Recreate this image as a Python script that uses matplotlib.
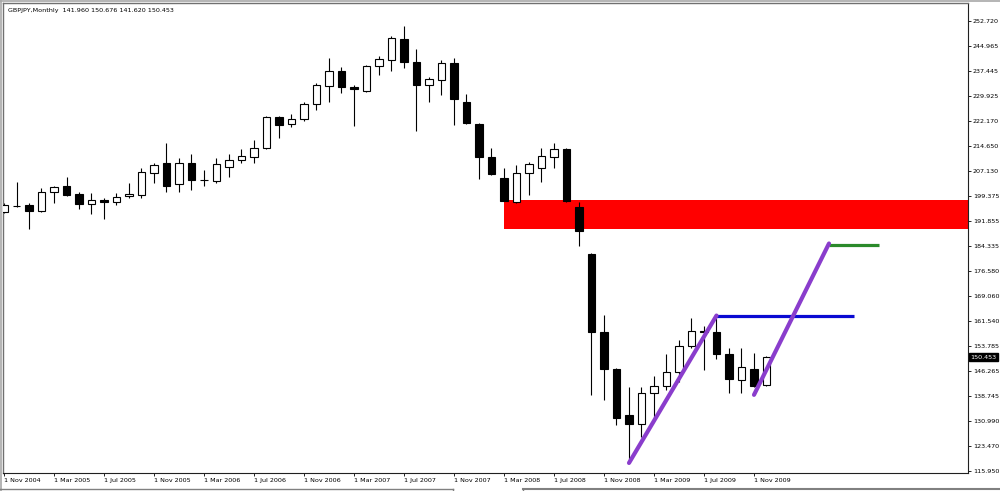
import matplotlib
matplotlib.use('Agg')
import matplotlib.pyplot as plt
from matplotlib.patches import Rectangle
from matplotlib.lines import Line2D
import matplotlib.transforms as mtransforms

plt.rcParams['font.family'] = ['DejaVu Sans']

# ---- data: monthly GBPJPY candles, month index 0 = Nov 2004 ----
months = list(range(62))
opens = [194.7, 196.4, 196.7, 195.0, 200.75, 202.4, 200.05, 196.9, 198.2, 197.5,
         199.4, 199.75, 206.3, 209.6, 203.0, 209.6, 204.3, 204.0, 208.35, 210.4,
         211.2, 213.9, 223.4, 221.2, 222.8, 227.3, 233.0, 237.4, 232.7, 231.35,
         238.9, 240.8, 247.1, 240.3, 233.2, 234.7, 239.8, 228.1, 221.2, 211.4,
         204.8, 197.7, 206.3, 207.9, 211.4, 213.7, 196.0, 181.8, 158.2, 146.8,
         132.9, 130.1, 139.7, 141.8, 145.9, 153.9, 158.3, 158.2, 151.3, 143.5,
         146.8, 141.96]
highs = [197.3, 203.6, 197.2, 202.0, 202.6, 205.3, 200.75, 200.3, 198.7, 200.3,
         203.5, 208.0, 209.4, 215.6, 210.9, 212.1, 207.3, 210.9, 212.1, 213.6,
         216.5, 223.75, 223.6, 224.4, 228.0, 233.9, 241.5, 238.7, 233.3, 239.2,
         242.0, 247.95, 251.2, 244.0, 235.55, 240.8, 241.3, 230.35, 221.5, 213.9,
         207.9, 208.9, 209.9, 213.9, 215.6, 213.9, 197.7, 182.2, 163.3, 147.1,
         141.5, 141.5, 144.8, 151.4, 155.7, 162.45, 159.9, 162.8, 153.2, 153.15,
         151.6, 150.676]
lows = [194.3, 196.0, 189.3, 194.5, 197.4, 199.5, 195.5, 194.0, 192.4, 196.7,
        198.7, 198.9, 203.3, 200.75, 200.6, 201.4, 202.6, 203.5, 205.3, 209.6,
        209.4, 213.7, 217.1, 220.3, 222.3, 225.6, 227.95, 230.65, 220.8, 231.1,
        236.3, 237.5, 238.2, 219.2, 227.9, 230.1, 221.0, 221.4, 204.5, 205.8,
        197.9, 197.2, 199.75, 203.8, 207.9, 197.7, 184.2, 139.0, 137.4, 129.8,
        118.3, 126.3, 131.9, 140.5, 143.0, 153.1, 146.5, 149.8, 139.7, 139.7,
        141.5, 141.62]
closes = [196.7, 196.4, 195.0, 200.75, 202.3, 199.75, 196.9, 198.1, 197.7, 199.2,
          200.05, 206.8, 208.9, 202.6, 209.6, 204.3, 204.4, 209.1, 210.5, 211.5,
          214.1, 223.5, 221.1, 222.8, 227.3, 233.1, 237.4, 232.5, 231.9, 238.9,
          241.0, 247.4, 240.1, 233.2, 234.9, 239.8, 228.8, 221.5, 211.4, 206.1,
          198.0, 206.5, 209.2, 211.6, 213.7, 197.9, 188.8, 158.2, 146.8, 132.1,
          130.05, 139.5, 141.8, 145.9, 153.9, 158.4, 158.0, 151.3, 143.7, 147.6,
          141.8, 150.453]

x_tick_pos = [0, 4, 8, 12, 16, 20, 24, 28, 32, 36, 40, 44, 48, 52, 56, 60]
x_tick_labels = ['1 Nov 2004', '1 Mar 2005', '1 Jul 2005', '1 Nov 2005',
                 '1 Mar 2006', '1 Jul 2006', '1 Nov 2006', '1 Mar 2007',
                 '1 Jul 2007', '1 Nov 2007', '1 Mar 2008', '1 Jul 2008',
                 '1 Nov 2008', '1 Mar 2009', '1 Jul 2009', '1 Nov 2009']
y_ticks = [252.720, 244.965, 237.445, 229.925, 222.170, 214.650, 207.130,
           199.375, 191.855, 184.335, 176.580, 169.060, 161.540, 153.785,
           146.265, 138.745, 130.990, 123.470, 115.950]

title_text = 'GBPJPY,Monthly  141.960 150.676 141.620 150.453'
last_price = 150.453

# drawn objects
zone_start, zone_low, zone_high = 40, 189.3, 198.2
trend1_x, trend1_y = [50, 57], [118.3, 163.1]
level1_x, level1_y = [57, 68], [163.1, 163.1]
trend2_x, trend2_y = [60, 66], [139.0, 185.0]
level2_x, level2_y = [66, 70], [184.6, 184.6]

# ---- figure ----
W, H = 1000, 491
fig = plt.figure(figsize=(W / 100, H / 100), dpi=100)
fig.patch.set_facecolor('white')

ax_left, ax_right, ax_top, ax_bottom = 2.5, 968.0, 3.3, 472.7
ax = fig.add_axes([ax_left / W, 1 - ax_bottom / H,
                   (ax_right - ax_left) / W, (ax_bottom - ax_top) / H])
ax.set_facecolor('white')
ax.set_xlim(-0.12, 77.12)
ax.set_ylim(115.34, 258.0)

# red zone
ax.add_patch(Rectangle((zone_start, zone_low), 200, zone_high - zone_low,
                       facecolor='#ff0000', edgecolor='none', zorder=1))

# candles
body_w = 0.6
for m, o, h, l, c in zip(months, opens, highs, lows, closes):
    ax.vlines(m, l, h, color='black', linewidth=0.8, zorder=2)
    fc = 'white' if c >= o else 'black'
    bottom = min(o, c)
    height = abs(c - o)
    ax.add_patch(Rectangle((m - body_w / 2, bottom), body_w, height,
                           facecolor=fc, edgecolor='black', linewidth=0.8,
                           zorder=3))

# lines
ax.plot(trend1_x, trend1_y, color='#8a3dcc', linewidth=3.0,
        solid_capstyle='round', zorder=5)
ax.plot(level1_x, level1_y, color='#0a0ad2', linewidth=2.3,
        solid_capstyle='butt', zorder=4)
ax.plot(trend2_x, trend2_y, color='#8a3dcc', linewidth=3.0,
        solid_capstyle='round', zorder=5)
ax.plot(level2_x, level2_y, color='#2a8a2a', linewidth=2.3,
        solid_capstyle='butt', zorder=4)

# axes styling
fs = 4.6
ax.yaxis.tick_right()
ax.set_yticks(y_ticks)
ax.set_yticklabels([f'{v:.3f}' for v in y_ticks])
ax.tick_params(axis='y', direction='out', length=2.0, width=0.6,
               pad=1.5, labelsize=fs, colors='black')
ax.set_xticks(x_tick_pos)
ax.set_xticklabels(x_tick_labels)
ax.tick_params(axis='x', direction='out', length=2.5, width=0.6,
               pad=1.2, labelsize=fs, colors='black')
for lab in ax.get_xticklabels():
    lab.set_horizontalalignment('left')
for side in ['right', 'bottom']:
    ax.spines[side].set_color('#202020')
    ax.spines[side].set_linewidth(0.8)
for side in ['top', 'left']:
    ax.spines[side].set_color('#707070')
    ax.spines[side].set_linewidth(1.0)

# title
ax.text(5 / (ax_right - ax_left), 1 - 7 / (ax_bottom - ax_top), title_text,
        transform=ax.transAxes, fontsize=fs, color='black', va='center',
        ha='left')

# last price label
trans = mtransforms.blended_transform_factory(ax.transAxes, ax.transData)
ax.text(1.0 + 2.5 / (ax_right - ax_left), last_price, f'{last_price:.3f}',
        transform=trans, fontsize=fs, color='white', va='center', ha='left',
        bbox=dict(boxstyle='square,pad=0.25', facecolor='black',
                  edgecolor='black'), zorder=10, clip_on=False)

# window chrome
fig.add_artist(Line2D([0, 1], [1 - 0.8 / H, 1 - 0.8 / H], color='#a8a8a8',
                      linewidth=1.2, transform=fig.transFigure))
fig.add_artist(Line2D([0.8 / W, 0.8 / W], [0, 1], color='#a8a8a8',
                      linewidth=1.2, transform=fig.transFigure))
yb = 1 - 488.5 / H
fig.add_artist(Line2D([0, 453 / W], [yb, yb], color='#808080',
                      linewidth=1.0, transform=fig.transFigure))
fig.add_artist(Line2D([523 / W, 1], [yb, yb], color='#808080',
                      linewidth=1.5, transform=fig.transFigure))
fig.add_artist(Line2D([453 / W, 453 / W], [0, yb], color='#808080',
                      linewidth=1.0, transform=fig.transFigure))
fig.add_artist(Line2D([523 / W, 523 / W], [0, yb], color='#808080',
                      linewidth=1.0, transform=fig.transFigure))

fig.savefig('out.png', dpi=100, facecolor='white')
